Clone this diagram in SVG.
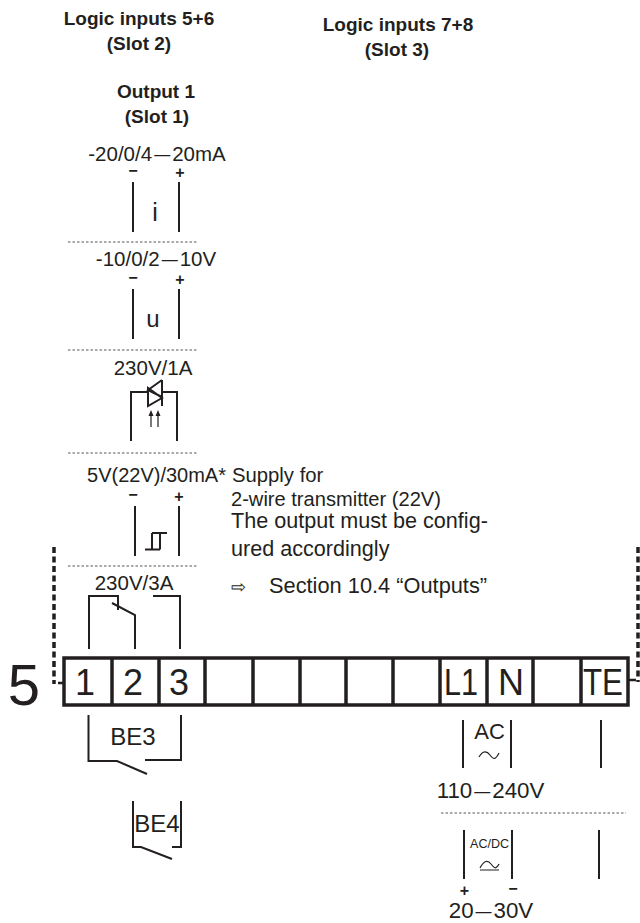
<svg xmlns="http://www.w3.org/2000/svg" width="640" height="923" viewBox="0 0 640 923">
<style>
text{font-family:"Liberation Sans",Arial,sans-serif;fill:#231f20;text-anchor:middle}
.b{font-weight:bold;font-size:19px}
.m{font-size:20.500px}
.l{font-size:22.300px}
.n{text-anchor:start}
.t{font-size:36px}
.e{font-size:16px}
.w{fill:none;stroke:#231f20;stroke-width:2}
.f{fill:none;stroke:#231f20;stroke-width:1.200}
.d{fill:none;stroke:#555;stroke-width:1;stroke-dasharray:2.500 2}
.h{fill:none;stroke:#231f20;stroke-width:3.500;stroke-dasharray:6 3.500}
.box{fill:none;stroke:#231f20;stroke-width:3.500}
.s{font-size:16px;font-weight:bold}
</style>
<rect width="640" height="923" fill="#fff"/>
<g id="titles">
<text class="b" x="139" y="25">Logic inputs 5+6</text>
<text class="b" x="139" y="50">(Slot 2)</text>
<text class="b" x="398" y="31">Logic inputs 7+8</text>
<text class="b" x="397" y="56">(Slot 3)</text>
<text class="b" x="156" y="98">Output 1</text>
<text class="b" x="157" y="123">(Slot 1)</text>
</g>
<g id="output-current">
<text class="m" x="157" y="161">-20/0/4<tspan class="e" dx="2" dy="-1.500">—</tspan><tspan dx="2" dy="1.500">20mA</tspan></text>
<text class="s" x="133" y="175.500">−</text><text class="s" x="180" y="177.500">+</text>
<path class="w" d="M133 182V232M179 182V232"/>
<text x="155" y="221" style="font-size:25px">i</text>
</g>
<g id="output-voltage">
<text class="m" x="156" y="266">-10/0/2<tspan class="e" dx="2" dy="-1.500">—</tspan><tspan dx="2" dy="1.500">10V</tspan></text>
<text class="s" x="133" y="282.500">−</text><text class="s" x="180" y="284.500">+</text>
<path class="w" d="M133 289V339M179 289V339"/>
<text x="153" y="327" style="font-size:24px">u</text>
</g>
<g id="output-triac">
<text class="m" x="153" y="375">230V/1A</text>
<path class="w" d="M131 441V392H148M162 392H177V441M148 388V406L162 398ZM162 380V406M162 380L148 390L162 397"/>
<path class="f" d="M151 427V414M158 427V414"/>
<path d="M148.500 416L151 410L153.500 416ZM155.500 416L158 410L160.500 416Z" fill="#231f20"/>
</g>
<g id="output-logic">
<text class="m" x="156.500" y="482" style="font-size:20px">5V(22V)/30mA*</text>
<text class="s" x="133" y="499.500">−</text><text class="s" x="179" y="501.500">+</text>
<path class="w" d="M135 506V556M179 506V556M145 549.500H160M152 549.500V533M160 549.500V533M152 533H167"/>
</g>
<g id="output-relay">
<text class="m" x="134" y="590">230V/3A</text>
<path class="w" d="M89 649V596H118V610M112 603L135 615V649M153 596H180V649"/>
</g>
<g id="separators">
<path class="d" d="M68 242H198M68 350H198M68 453H198M68 566H198M441 813H626"/>
<path class="h" d="M54 547V684M638 547V682"/>
<path class="box" style="stroke-width:2.500" d="M58 683H64M628 680H636"/>
</g>
<g id="notes">
<text class="n" x="232" y="482" style="font-size:20.300px">Supply for</text>
<text class="n" x="231" y="506" style="font-size:20.100px">2-wire transmitter (22V)</text>
<text class="n" x="231" y="528" style="font-size:21.600px">The output must be config-</text>
<text class="n" x="231" y="556" style="font-size:21.600px">ured accordingly</text>
<text class="n" x="231" y="593" style="font-size:18px">⇨</text>
<text class="n" x="269" y="593" style="font-size:21.800px">Section 10.4 “Outputs”</text>
</g>
<g id="terminal-strip">
<path class="box" d="M64 658H628V705H64ZM112 658V705M159 658V705M205 658V705M253 658V705M300 658V705M346 658V705M393 658V705M440 658V705M487 658V705M533 658V705M581 658V705"/>
<text class="t" x="85" y="695">1</text>
<text class="t" x="133" y="695">2</text>
<text class="t" x="179" y="695">3</text>
<text class="t" x="461" y="695" textLength="34" lengthAdjust="spacingAndGlyphs">L1</text>
<text class="t" x="511" y="695">N</text>
<text class="t" x="603" y="695" textLength="40" lengthAdjust="spacingAndGlyphs">TE</text>
<text x="24" y="705" style="font-size:58px">5</text>
</g>
<g id="input-be3">
<path class="w" d="M88.500 715V761H117L147 774M145 760H181V715"/>
<text x="133" y="745" style="font-size:24px">BE3</text>
</g>
<g id="input-be4">
<path class="w" d="M133 801V847H141L172 859M172 847H181V801"/>
<text x="157" y="832" style="font-size:24px">BE4</text>
</g>
<g id="supply-ac">
<path class="w" d="M463 720V768M511 720V768M601 720V768"/>
<text x="489.500" y="739" style="font-size:22px">AC</text>
<path class="f" d="M479 757C483 750 487 751 490 755S495 761 499 753"/>
<text class="l" x="490.500" y="798">110<tspan class="e" dx="2" dy="-1.500">—</tspan><tspan dx="2" dy="1.500">240V</tspan></text>
</g>
<g id="supply-dc">
<path class="w" d="M464 830V879M512 830V879M599 830V879"/>
<text x="489.500" y="848" style="font-size:12.500px">AC/DC</text>
<path class="f" d="M480 868C484 860 488 860 491 864S496 870 499 864M480 870H499"/>
<text class="s" x="464.500" y="896">+</text><text class="s" x="513" y="894">−</text>
<text class="l" x="491" y="918">20<tspan class="e" dx="2" dy="-1.500">—</tspan><tspan dx="2" dy="1.500">30V</tspan></text>
</g>
</svg>
